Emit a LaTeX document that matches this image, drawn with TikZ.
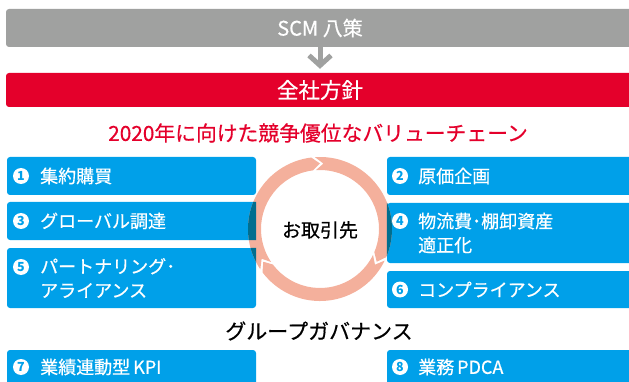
\documentclass[tikz,border=0pt]{standalone}
\usepackage{fontspec}
\setmainfont{Noto Sans CJK JP}
\newfontfamily\jpmed{Noto Sans CJK JP}[FakeBold=0.5]
\usetikzlibrary{arrows.meta}
\definecolor{scmgray}{RGB}{160,161,160}
\definecolor{polred}{RGB}{228,0,43}
\definecolor{boxblue}{RGB}{0,160,233}
\definecolor{ringsalmon}{RGB}{244,176,156}
\definecolor{ringdark}{RGB}{0,110,143}
\newcommand\myringfill[1]{%
  \begin{scope}[shift={(320,229)}, y=1pt]
    \foreach \g in {90,-30,-150} {
      \pgfmathsetmacro\ga{\g+4}
      \pgfmathsetmacro\gb{\g-113}
      \pgfmathsetmacro\gc{\g-120}
      \pgfmathsetmacro\gd{\g-3}
      \fill[#1] (\ga:72) arc[start angle=\ga, end angle=\gb, radius=72]
        -- (\gc:65.5) -- (\gb:59) arc[start angle=\gb, end angle=\ga, radius=59]
        -- (\gd:65.5) -- cycle;
    }
  \end{scope}}
\begin{document}
\begin{tikzpicture}[x=1pt,y=-1pt,
  bar/.style={rectangle, rounded corners=3pt, minimum width=628pt, inner sep=0pt, text=white},
  bluebox/.style={rectangle, rounded corners=3pt, fill=boxblue, inner sep=0pt},
  boxtext/.style={anchor=west, text=white, align=left, inner sep=0pt, font=\jpmed\fontsize{18}{24}\selectfont},
  numc/.style={circle, fill=white, inner sep=0pt, minimum size=16pt, text=boxblue, font=\bfseries\fontsize{12.5}{12.5}\selectfont},
  bigtext/.style={inner sep=0pt, font=\jpmed\fontsize{21}{21}\selectfont},
]
\useasboundingbox (0,0) rectangle (629,382);

\node[bar, fill=scmgray, minimum height=38pt, font=\jpmed\fontsize{20}{20}\selectfont] (scm) at (320,28) {SCM 八策};
\node[bar, fill=polred, minimum height=34pt, font=\jpmed\fontsize{21.5}{21.5}\selectfont] (policy) at (320,90) {全社方針};
\draw[scmgray, line width=5pt, -{Straight Barb[length=10pt,width=22pt]}, shorten >=4pt] (scm.south) -- (policy.north);

\node[inner sep=0pt, font=\jpmed\fontsize{20.8}{20.8}\selectfont, text=polred] (title) at (318,133) {2020年に向けた競争優位なバリューチェーン};

% left column
\node[bluebox, minimum width=249pt, minimum height=38pt] (b1) at (131.5,176) {};
\node[bluebox, minimum width=249pt, minimum height=38pt] (b3) at (131.5,221) {};
\node[bluebox, minimum width=249pt, minimum height=60pt] (b5) at (131.5,278) {};
\node[bluebox, minimum width=249pt, minimum height=50pt] (b7) at (131.5,375) {};
% right column
\node[bluebox, minimum width=253pt, minimum height=38pt] (b2) at (513.5,176) {};
\node[bluebox, minimum width=253pt, minimum height=60pt] (b4) at (513.5,233) {};
\node[bluebox, minimum width=253pt, minimum height=37pt] (b6) at (513.5,289.5) {};
\node[bluebox, minimum width=253pt, minimum height=50pt] (b8) at (513.5,375) {};

\node[numc] (n1) at (21,176) {1};
\node[boxtext] (t1) at (40,176) {集約購買};
\node[numc] (n3) at (21,221) {3};
\node[boxtext] (t3) at (40,221) {グローバル調達};
\node[numc] (n5) at (21,267) {5};
\node[boxtext] (t5) at (40,278) {パートナリング･\\アライアンス};
\node[numc] (n7) at (21,367) {7};
\node[boxtext] (t7) at (40,367) {業績連動型\,KPI};

\node[numc] (n2) at (400,176) {2};
\node[boxtext] (t2) at (418,176) {原価企画};
\node[numc] (n4) at (400,221) {4};
\node[boxtext] (t4) at (418,233) {物流費･棚卸資産\\適正化};
\node[numc] (n6) at (400,289.5) {6};
\node[boxtext] (t6) at (418,289.5) {コンプライアンス};
\node[numc] (n8) at (400,367) {8};
\node[boxtext] (t8) at (418,367) {業務\,PDCA};

% ring
\myringfill{ringsalmon}
\begin{scope}
  \clip (b1.south west) rectangle (b1.north east)
        (b3.south west) rectangle (b3.north east)
        (b5.south west) rectangle (b5.north east)
        (b2.south west) rectangle (b2.north east)
        (b4.south west) rectangle (b4.north east)
        (b6.south west) rectangle (b6.north east);
  \myringfill{ringdark}
\end{scope}

\node[inner sep=0pt, font=\jpmed\fontsize{19}{19}\selectfont] (partner) at (320,230) {お取引先};
\node[bigtext] (gov) at (319,331) {グループガバナンス};
\end{tikzpicture}
\end{document}
